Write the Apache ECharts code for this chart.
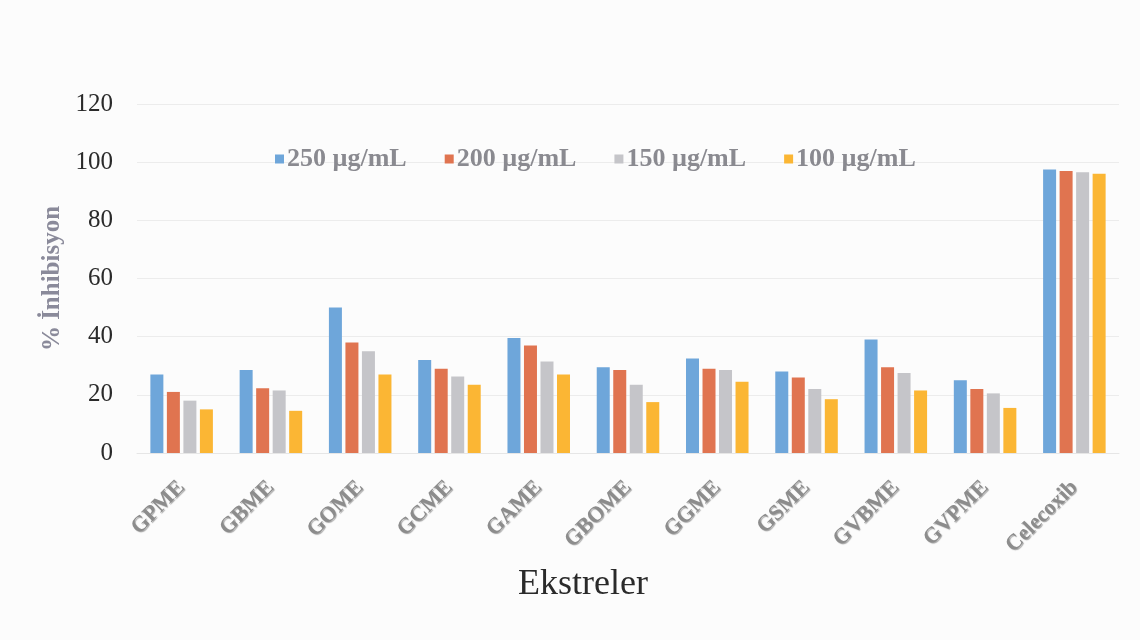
<!DOCTYPE html>
<html>
<head>
<meta charset="utf-8">
<script src="https://cdn.jsdelivr.net/npm/echarts@6/dist/echarts.min.js"></script>
<style>
  html, body { margin: 0; padding: 0; background: #fcfcfc; }
  #chart { width: 1140px; height: 640px; }
</style>
</head>
<body>
<div id="chart"></div>
<script>
// Extracts and reference compound
const categories = ['GPME', 'GBME', 'GOME', 'GCME', 'GAME', 'GBOME', 'GGME', 'GSME', 'GVBME', 'GVPME', 'Celecoxib'];

// % inhibition at each concentration
const c250 = [27, 28.5, 50, 32, 39.5, 29.5, 32.5, 28, 39, 25, 97.5];
const c200 = [21, 22.3, 38, 29, 37, 28.5, 29, 26, 29.5, 22, 97];
const c150 = [18, 21.5, 35, 26.3, 31.5, 23.5, 28.5, 22, 27.5, 20.5, 96.5];
const c100 = [15, 14.5, 27, 23.5, 27, 17.5, 24.5, 18.5, 21.5, 15.5, 96];

const seriesNames = ['250 µg/mL', '200 µg/mL', '150 µg/mL', '100 µg/mL'];
const colors = ['#6ea6da', '#e07450', '#c5c5c9', '#fbb634'];

const chart = echarts.init(document.getElementById('chart'));
const serif = '"Liberation Serif", "Times New Roman", serif';

chart.setOption({
  backgroundColor: '#fcfcfc',
  animation: false,
  color: colors,
  legend: {
    top: 141,
    left: 270,
    itemWidth: 9,
    itemHeight: 9,
    itemGap: 38,
    icon: 'rect',
    textStyle: { fontFamily: serif, fontSize: 26, fontWeight: 'bold', color: '#8a8a90', padding: [0, 0, 0, -2] },
    data: seriesNames
  },
  grid: { left: 137, right: 21, top: 104, bottom: 187 },
  graphic: [{
    type: 'text',
    x: 583,
    y: 585,
    style: {
      text: 'Ekstreler',
      fontFamily: serif,
      fontSize: 36,
      fill: '#2a2a2a',
      align: 'center',
      verticalAlign: 'middle'
    }
  }],
  xAxis: {
    type: 'category',
    data: categories,
    axisLine: { show: true, lineStyle: { color: '#e6e6e6' } },
    axisTick: { show: false },
    axisLabel: {
      rotate: 45,
      margin: 31,
      fontFamily: serif,
      fontSize: 22,
      fontWeight: 'bold',
      color: '#8c8c8c',
      textShadowColor: 'rgba(0,0,0,0.35)',
      textShadowBlur: 1,
      textShadowOffsetX: 1,
      textShadowOffsetY: 1
    }
  },
  yAxis: {
    type: 'value',
    min: 0,
    max: 120,
    interval: 20,
    name: '% İnhibisyon',
    nameLocation: 'middle',
    nameGap: 72,
    nameTextStyle: { fontFamily: serif, fontSize: 25, fontWeight: 'bold', color: '#8a8a9a' },
    axisLine: { show: false },
    axisTick: { show: false },
    axisLabel: { fontFamily: serif, fontSize: 25, color: '#2a2a2a', margin: 24 },
    splitLine: { lineStyle: { color: '#ececec', width: 1 } }
  },
  series: [c250, c200, c150, c100].map((d, i) => ({
    name: seriesNames[i],
    type: 'bar',
    data: d,
    barWidth: 13,
    barGap: '27%'
  }))
});
</script>
</body>
</html>
